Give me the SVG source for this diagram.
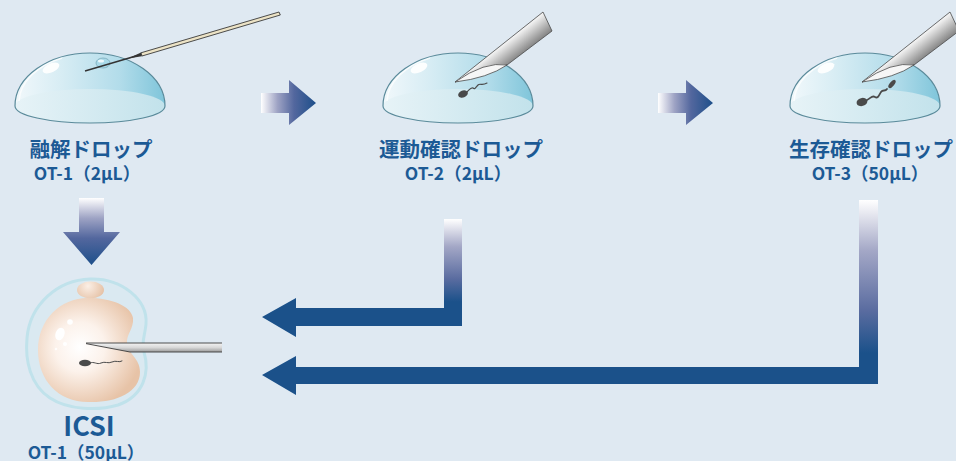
<svg xmlns="http://www.w3.org/2000/svg" width="956" height="461" viewBox="0 0 956 461">
  <defs>
    <style>
      .title { font-family: "Noto Sans CJK JP", "Noto Sans", sans-serif; font-weight: 700; fill: #1c5a95; text-anchor: middle; }
      .t1 { font-size: 20.5px; }
      .t2 { font-size: 17.5px; }
      .t3 { font-size: 27px; }
      .domeOutline { fill: none; stroke: #5a8a9a; stroke-width: 1.2; }
      .pip { stroke: #4a4a4a; stroke-width: 0.8; stroke-linejoin: round; }
      .sperm { fill: #4a4a4a; }
      .tail { fill: none; stroke: #4a4a4a; stroke-linecap: round; }
      .solid { fill: #1b518a; }
    </style>
    <linearGradient id="domeGrad" x1="0" y1="0" x2="1" y2="0">
      <stop offset="0" stop-color="#f1f8fb"/>
      <stop offset="0.3" stop-color="#d8edf4"/>
      <stop offset="0.7" stop-color="#b2dcea"/>
      <stop offset="1" stop-color="#7fc5da"/>
    </linearGradient>
    <linearGradient id="baseGrad" x1="0" y1="0" x2="1" y2="0">
      <stop offset="0" stop-color="#e7f3f7"/>
      <stop offset="0.6" stop-color="#d1e9f0"/>
      <stop offset="1" stop-color="#c2e2eb"/>
    </linearGradient>
    <linearGradient id="pipGrad" gradientUnits="userSpaceOnUse" x1="62" y1="32" x2="73" y2="46">
      <stop offset="0" stop-color="#f0f0f0"/>
      <stop offset="1" stop-color="#8a8a8a"/>
    </linearGradient>
    <linearGradient id="tubeGrad" x1="0" y1="0" x2="0" y2="1">
      <stop offset="0" stop-color="#f4f4f4"/>
      <stop offset="0.5" stop-color="#d8d8d8"/>
      <stop offset="1" stop-color="#9a9a9a"/>
    </linearGradient>
    <radialGradient id="eggGrad" cx="80" cy="347" r="62" gradientUnits="userSpaceOnUse">
      <stop offset="0" stop-color="#ffffff"/>
      <stop offset="0.4" stop-color="#fcf2eb"/>
      <stop offset="1" stop-color="#e7c3a7"/>
    </radialGradient>
    <radialGradient id="pbGrad" cx="88" cy="286" r="16" gradientUnits="userSpaceOnUse">
      <stop offset="0" stop-color="#fbefe6"/>
      <stop offset="1" stop-color="#e6c3a8"/>
    </radialGradient>
    <linearGradient id="rightGrad" x1="0" y1="0" x2="1" y2="0">
      <stop offset="0" stop-color="#ffffff"/>
      <stop offset="0.3" stop-color="#9ea3c4"/>
      <stop offset="0.6" stop-color="#53679e"/>
      <stop offset="1" stop-color="#1d4f8a"/>
    </linearGradient>
    <linearGradient id="downGrad" x1="0" y1="0" x2="0" y2="1">
      <stop offset="0" stop-color="#ffffff"/>
      <stop offset="0.3" stop-color="#9ea3c4"/>
      <stop offset="0.6" stop-color="#53679e"/>
      <stop offset="1" stop-color="#1d4f8a"/>
    </linearGradient>
    <linearGradient id="vertGrad" x1="0" y1="0" x2="0" y2="1">
      <stop offset="0" stop-color="#ffffff"/>
      <stop offset="0.3" stop-color="#a3a7c6"/>
      <stop offset="0.65" stop-color="#5a6ca0"/>
      <stop offset="0.9" stop-color="#1b518a"/>
      <stop offset="1" stop-color="#1b518a"/>
    </linearGradient>

    <!-- hemispherical drop, centred on x = 0 -->
    <g id="dome">
      <path d="M-75,106 A75,53 0 0 1 75,106 A75,17 0 0 1 -75,106 Z" fill="url(#domeGrad)"/>
      <ellipse cx="0" cy="106" rx="75" ry="17" fill="url(#baseGrad)"/>
      <path d="M-71,101 A72,49 0 0 1 -28,58" fill="none" stroke="#ffffff" stroke-width="1.5" opacity="0.75"/>
      <ellipse cx="-39" cy="68" rx="9" ry="4.5" fill="#ffffff" opacity="0.9" transform="rotate(-25 -39 68)"/>
      <path class="domeOutline" d="M-75,106 A75,53 0 0 1 75,106 A75,17 0 0 1 -75,106 Z"/>
    </g>

    <!-- bevelled holding pipette, tip at (-3,82) -->
    <g id="pipette">
      <path class="pip" d="M-3,82 L85,12 L94,31 L49,65 Z" fill="url(#pipGrad)"/>
      <path class="pip" d="M-3,82 Q27,61 49,65 Q30,78 -3,82 Z" fill="#f6f6f6"/>
    </g>
  </defs>

  <rect x="0" y="0" width="956" height="461" fill="#dfe9f2"/>

  <!-- thawing drop -->
  <g id="node-thaw">
    <g transform="translate(90,0)">
      <use href="#dome"/>
      <ellipse cx="13" cy="63" rx="7" ry="5" fill="#a9d9e8" stroke="#6a9aaa" stroke-width="0.6"/>
      <ellipse cx="11" cy="61" rx="3" ry="1.5" fill="#ffffff" opacity="0.8"/>
      <path d="M38,58.6 L51,52.5 L52,56.3 Z" fill="#3a3a3a"/>
      <path d="M51,52.8 L189,12 L190.3,15 L52,56 Z" fill="#ece3c6" stroke="#3a3a3a" stroke-width="0.9"/>
      <line x1="-5" y1="71" x2="51" y2="54.5" stroke="#333333" stroke-width="1.5"/>
    </g>
    <text class="title t1" x="91" y="157">融解ドロップ</text>
    <text class="title t2" x="87" y="180">OT-1（2μL）</text>
  </g>

  <!-- motility check drop -->
  <g id="node-motility">
    <g transform="translate(458,0)">
      <use href="#dome"/>
      <ellipse class="sperm" cx="5" cy="94" rx="5" ry="3.5" transform="rotate(-20 5 94)"/>
      <path class="tail" stroke-width="1.1" d="M9,92 C12,89 13,87 15,88 C17,90 18,87 20,85 C22,83 24,86 29,83"/>
      <use href="#pipette"/>
    </g>
    <text class="title t1" x="461" y="157">運動確認ドロップ</text>
    <text class="title t2" x="458" y="180">OT-2（2μL）</text>
  </g>

  <!-- viability check drop -->
  <g id="node-viability">
    <g transform="translate(865,0)">
      <use href="#dome"/>
      <ellipse class="sperm" cx="-3" cy="102" rx="5.5" ry="4" transform="rotate(-15 -3 102)"/>
      <path class="tail" stroke-width="1.8" d="M2,100 C6,98 7,95 10,97 C13,99 14,95 16,92 C18,89 20,92 22,89"/>
      <ellipse class="sperm" cx="27" cy="84" rx="5" ry="2.2" transform="rotate(-50 27 84)"/>
      <use href="#pipette"/>
    </g>
    <text class="title t1" x="871" y="157">生存確認ドロップ</text>
    <text class="title t2" x="870" y="180">OT-3（50μL）</text>
  </g>

  <!-- ICSI -->
  <g id="node-icsi">
    <path d="M90,279 C122,278 148,300 146,324 C145,336 141,342 144,352 C150,372 144,396 118,405 C98,411 68,410 50,398 C30,385 25,360 27,338 C30,304 58,280 90,279 Z" fill="#dae9f1" stroke="#c0e2eb" stroke-width="3"/>
    <ellipse cx="90.5" cy="290" rx="13.5" ry="8.5" fill="url(#pbGrad)"/>
    <path d="M88,298 C112,298 131,306 133,318 C134,329 126,334 127,344 C128,354 140,358 140,372 C140,393 115,403 88,402 C58,402 38,380 38,350 C38,320 60,298 88,298 Z" fill="url(#eggGrad)"/>
    <ellipse cx="60" cy="334" rx="4.5" ry="6.5" fill="#ffffff" transform="rotate(20 60 334)"/>
    <circle cx="70" cy="322" r="2.8" fill="#ffffff"/>
    <circle cx="65" cy="344" r="2" fill="#ffffff"/>
    <circle cx="56" cy="349" r="1.3" fill="#ffffff" opacity="0.8"/>
    <ellipse class="sperm" cx="85" cy="363" rx="6" ry="3.3"/>
    <path class="tail" stroke-width="1" d="M90,363 C94,361 97,365 101,363 C105,361 108,364 112,362 C116,360 119,363 122,361"/>
    <path d="M86,343 L222,343 L222,352 L130,352 Z" fill="url(#tubeGrad)"/>
    <path d="M86,343 L222,343 M86,343.6 L130,352 L222,352" fill="none" stroke="#3a3a3a" stroke-width="0.9"/>
    <text class="title t3" x="89" y="436">ICSI</text>
    <text class="title t2" x="86" y="459">OT-1（50μL）</text>
  </g>

  <!-- arrows between the drops -->
  <g id="connectors">
    <path d="M261,93 L289,93 L289,80 L316,103 L289,125 L289,113 L261,113 Z" fill="url(#rightGrad)"/>
    <path d="M658,93 L686,93 L686,80 L713,103 L686,125 L686,113 L658,113 Z" fill="url(#rightGrad)"/>
    <path d="M79,198 L104,198 L104,232 L120,232 L91.5,265 L63,232 L79,232 Z" fill="url(#downGrad)"/>

    <rect x="444" y="219" width="18" height="92" fill="url(#vertGrad)"/>
    <path class="solid" d="M462,308 L462,326 L296,326 L296,337 L262,317 L296,298 L296,308 Z"/>

    <rect x="859" y="200" width="19" height="170" fill="url(#vertGrad)"/>
    <path class="solid" d="M878,367 L878,384 L296,384 L296,395 L262,375 L296,356 L296,367 Z"/>
  </g>
</svg>
